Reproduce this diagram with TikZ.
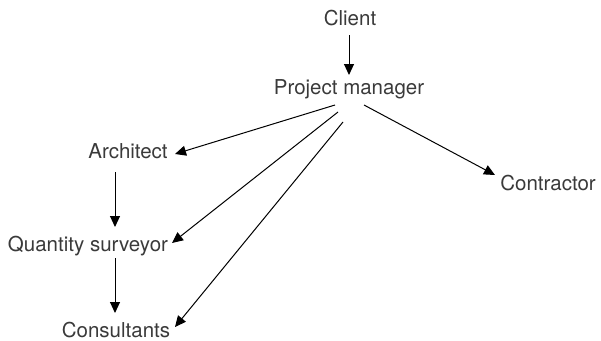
\documentclass[tikz,border=0pt]{standalone}
\usepackage{fontspec}
\setmainfont{TeX Gyre Heros}
\usetikzlibrary{arrows.meta}
\definecolor{txt}{HTML}{3A3A3A}
\begin{document}
\begin{tikzpicture}[x=1pt,y=-1pt,
  lbl/.style={font=\fontsize{20.5}{23}\selectfont, text=txt, inner sep=0pt, anchor=base},
  link/.style={-{Triangle[length=11pt,width=10pt]}, line width=1pt}]
\useasboundingbox (0,0) rectangle (601,340);
% roles
\node[lbl] (client) at (350,25) {Client};
\node[lbl] (pm) at (349,94) {Project manager};
\node[lbl] (arch) at (128,158) {Architect};
\node[lbl] (qs) at (88,251) {Quantity surveyor};
\node[lbl] (cons) at (116,337) {Consultants};
\node[lbl] (contr) at (548,190) {Contractor};
% reporting lines
\draw[link] ([shift={(-1,10)}]client.base) -- ([shift={(0,-19)}]pm.base);
\draw[link] ([shift={(-14,11)}]pm.base) -- ([shift={(47,-4)}]arch.base);
\draw[link] ([shift={(-11,18)}]pm.base) -- ([shift={(84,-8)}]qs.base);
\draw[link] ([shift={(-6,28)}]pm.base) -- ([shift={(59,-10)}]cons.base);
\draw[link] ([shift={(15,11)}]pm.base) -- ([shift={(-53,-15)}]contr.base);
\draw[link] ([shift={(-13,14)}]arch.base) -- ([shift={(27,-24)}]qs.base);
\draw[link] ([shift={(27,7)}]qs.base) -- ([shift={(-1,-24)}]cons.base);
\end{tikzpicture}
\end{document}
